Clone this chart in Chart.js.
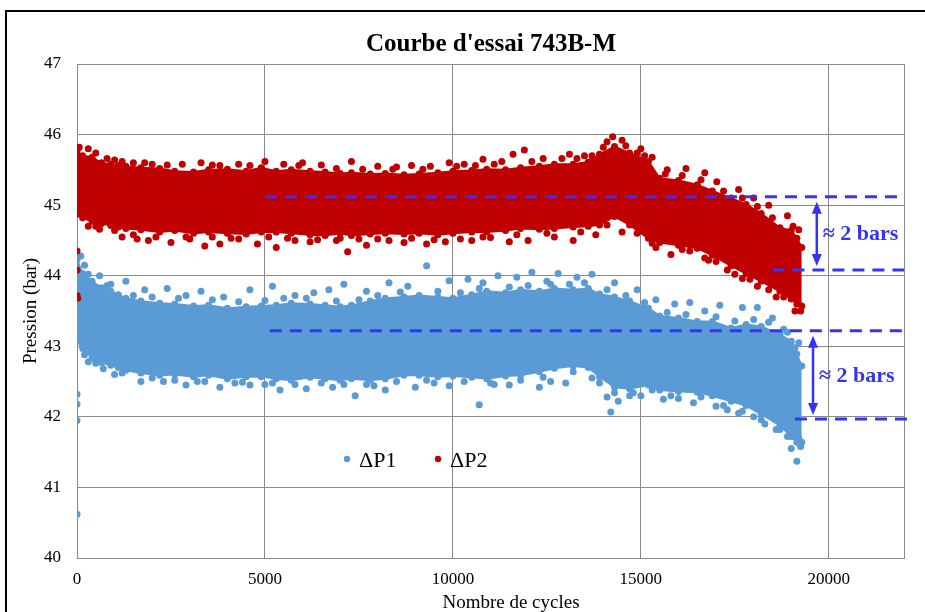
<!DOCTYPE html>
<html>
<head>
<meta charset="utf-8">
<title>Courbe d'essai 743B-M</title>
<script src="https://cdn.jsdelivr.net/npm/chart.js@4.4.1/dist/chart.umd.min.js"></script>
<style>
html, body { margin: 0; padding: 0; background: #fff; }
#chart { display: block; }
</style>
</head>
<body>
<canvas id="chart" width="925" height="612"></canvas>
<script>
(function () {

var title = "Courbe d'essai 743B-M";
var xTitle = 'Nombre de cycles';
var yTitle = 'Pression (bar)';
var seriesNames = ['\u0394P1', '\u0394P2'];
var seriesColors = ['#5b9bd5', '#c00000'];
var refColor = '#3434f6';
var gridColor = '#8a8a8a';
var serif = '"Liberation Serif", "Times New Roman", serif';

var xTicks = [0, 5000, 10000, 15000, 20000];
var xMax = 22000;
var yMin = 40;
var yMax = 47;

// dense part of each cloud: upper and lower edge read along the cycles
var bandCycles = [0, 150, 400, 650, 900, 1100, 1300, 1700, 2200, 2600, 3100, 3500, 4000, 4500, 4900, 5300, 5700, 6200, 6600, 7000, 7300, 7800, 8200, 8700, 9100, 9600, 10000, 10500, 10900, 11400, 11800, 12300, 12700, 13200, 13600, 13900, 14300, 14700, 15200, 15500, 16000, 16500, 16900, 17400, 17800, 18200, 18700, 19000, 19150, 19280];
var p2High = [45.76, 45.70, 45.68, 45.60, 45.58, 45.56, 45.55, 45.53, 45.52, 45.48, 45.47, 45.50, 45.51, 45.48, 45.53, 45.48, 45.50, 45.48, 45.47, 45.45, 45.46, 45.44, 45.45, 45.43, 45.44, 45.46, 45.48, 45.49, 45.51, 45.50, 45.53, 45.55, 45.58, 45.58, 45.61, 45.72, 45.83, 45.74, 45.62, 45.38, 45.35, 45.29, 45.20, 45.10, 45.01, 44.88, 44.68, 44.64, 44.53, 44.40];
var p2Low = [44.87, 44.82, 44.77, 44.74, 44.71, 44.69, 44.67, 44.65, 44.62, 44.64, 44.60, 44.62, 44.60, 44.59, 44.62, 44.62, 44.60, 44.58, 44.57, 44.60, 44.57, 44.59, 44.60, 44.59, 44.60, 44.58, 44.60, 44.62, 44.62, 44.64, 44.67, 44.66, 44.67, 44.69, 44.70, 44.72, 44.84, 44.72, 44.53, 44.47, 44.43, 44.39, 44.29, 44.14, 44.03, 43.92, 43.78, 43.67, 43.60, 43.57];
var p1High = [44.23, 44.03, 43.92, 43.83, 43.78, 43.73, 43.68, 43.64, 43.61, 43.60, 43.57, 43.58, 43.54, 43.56, 43.57, 43.58, 43.61, 43.60, 43.58, 43.56, 43.58, 43.64, 43.68, 43.70, 43.72, 43.70, 43.68, 43.73, 43.78, 43.76, 43.80, 43.78, 43.82, 43.80, 43.82, 43.74, 43.70, 43.64, 43.54, 43.43, 43.40, 43.35, 43.35, 43.26, 43.31, 43.28, 43.17, 43.07, 42.89, 42.72];
var p1Low = [43.07, 42.97, 42.83, 42.77, 42.73, 42.70, 42.66, 42.62, 42.59, 42.60, 42.57, 42.59, 42.54, 42.57, 42.57, 42.54, 42.52, 42.56, 42.54, 42.52, 42.54, 42.52, 42.54, 42.59, 42.59, 42.57, 42.58, 42.56, 42.54, 42.58, 42.59, 42.64, 42.69, 42.72, 42.70, 42.57, 42.42, 42.40, 42.45, 42.38, 42.36, 42.35, 42.30, 42.22, 42.16, 42.04, 41.88, 41.72, 41.64, 41.64];

// scattered points around the clouds
var p2Cycles = [0, 0, 0, 20, 0, 60, 300, 800, 1200, 1800, 2400, 2800, 3300, 3800, 4300, 5000, 5500, 6000, 6500, 7300, 8000, 8500, 8900, 9400, 9900, 10300, 10800, 11300, 11600, 11900, 12400, 13100, 13500, 14100, 14250, 14500, 15000, 15300, 15700, 16200, 16700, 17020, 17600, 18000, 18400, 18900, 19200,
	500, 1000, 1500, 2000, 3600, 4600, 5900, 6900, 7600, 8400, 9200, 10100, 10600, 11100, 12100, 12900, 13300, 13700, 14000, 14600, 14900, 15100, 15650, 16100, 16600, 17200, 17700, 18100, 18500, 19050,
	300, 600, 1200, 1600, 1900, 2500, 3000, 3400, 3800, 4300, 4800, 5300, 5800, 6200, 6900, 7200, 7500, 7700, 8300, 8700, 9300, 9800, 10200, 10500, 11000, 11500, 12000, 12700, 13200, 13800, 14500, 15400, 15800, 16300, 16700, 17000, 17500, 17900, 18400, 18600, 19100,
	500, 1000, 1500, 2100, 2900, 3600, 4100, 5100, 5600, 6400, 7000, 8000, 8900, 9500, 10800, 11700, 12500, 13400, 14100, 14900, 15300, 16100, 16800, 17300, 17700, 18100, 18800, 19250];
var p2Values = [44.35, 44.08, 43.72, 43.68, 45.45, 45.82, 45.80, 45.66, 45.62, 45.60, 45.57, 45.58, 45.60, 45.56, 45.58, 45.62, 45.58, 45.60, 45.57, 45.62, 45.55, 45.54, 45.56, 45.55, 45.60, 45.58, 45.65, 45.62, 45.72, 45.78, 45.66, 45.72, 45.70, 45.90, 45.97, 45.92, 45.80, 45.68, 45.50, 45.52, 45.46, 45.33, 45.22, 45.10, 45.00, 44.85, 44.65,
	45.74, 45.64, 45.60, 45.58, 45.57, 45.56, 45.56, 45.52, 45.51, 45.51, 45.51, 45.55, 45.56, 45.58, 45.62, 45.66, 45.66, 45.70, 45.82, 45.84, 45.74, 45.70, 45.44, 45.42, 45.36, 45.20, 45.10, 44.98, 44.82, 44.70,
	44.70, 44.66, 44.55, 44.52, 44.50, 44.47, 44.52, 44.42, 44.45, 44.52, 44.45, 44.40, 44.50, 44.48, 44.50, 44.34, 44.52, 44.43, 44.50, 44.47, 44.45, 44.48, 44.52, 44.50, 44.54, 44.48, 44.50, 44.55, 44.50, 44.58, 44.62, 44.40, 44.30, 44.35, 44.25, 44.20, 44.02, 43.95, 43.80, 43.70, 43.50,
	44.70, 44.64, 44.58, 44.55, 44.55, 44.55, 44.53, 44.55, 44.53, 44.51, 44.53, 44.52, 44.53, 44.51, 44.55, 44.58, 44.60, 44.62, 44.72, 44.60, 44.46, 44.37, 44.22, 44.08, 43.96, 43.85, 43.70, 43.50];

var p1Cycles = [0, 0, 0, 0, 100, 200, 600, 900, 1300, 1800, 2400, 2900, 3300, 3900, 4600, 5200, 5800, 6300, 6700, 7100, 7700, 8300, 8800, 9300, 9900, 10400, 10800, 11200, 11700, 12100, 12500, 12800, 13300, 13700, 14300, 14900, 15400, 15900, 16300, 16700, 17100, 17700, 18100, 18500, 18900, 19200,
	300, 800, 1500, 2000, 2700, 3600, 4300, 5000, 5500, 6100, 6900, 7500, 8000, 8600, 9600, 10200, 10700, 11500, 12000, 12600, 13100, 13500, 14100, 14600, 15100, 15700, 16200, 17000, 17500, 18000, 18400, 18800, 19100,
	300, 700, 1000, 1700, 2300, 2900, 3400, 3800, 4200, 4600, 5000, 5400, 6100, 6800, 7400, 7900, 8200, 9000, 9500, 9900, 10700, 11100, 11500, 12300, 12600, 13000, 13700, 14100, 14200, 14400, 14700, 15000, 15600, 16000, 16400, 17000, 17300, 17600, 18000, 18300, 18700, 19000, 19150, 19200,
	200, 500, 1200, 2000, 2600, 3200, 4400, 5200, 5800, 6500, 7100, 7700, 8500, 9300, 10300, 11000, 11800, 12400, 13200, 13900, 14300, 14800, 15300, 15800, 16600, 17200, 17700, 18200, 18600, 18900, 19250];
var p1Values = [42.32, 42.18, 41.95, 40.62, 44.28, 44.15, 44.00, 43.88, 43.92, 43.80, 43.82, 43.72, 43.78, 43.70, 43.80, 43.85, 43.72, 43.76, 43.80, 43.88, 43.78, 43.90, 43.85, 44.14, 43.93, 43.95, 43.90, 44.00, 43.98, 44.05, 43.92, 44.03, 43.98, 44.02, 43.90, 43.80, 43.66, 43.60, 43.62, 43.50, 43.58, 43.55, 43.55, 43.40, 43.20, 43.05,
	44.02, 43.86, 43.72, 43.70, 43.68, 43.66, 43.63, 43.65, 43.68, 43.68, 43.64, 43.66, 43.72, 43.77, 43.78, 43.76, 43.82, 43.84, 43.86, 43.88, 43.88, 43.90, 43.80, 43.72, 43.62, 43.48, 43.45, 43.42, 43.36, 43.38, 43.34, 43.24, 42.98,
	42.78, 42.68, 42.60, 42.50, 42.50, 42.45, 42.50, 42.42, 42.48, 42.45, 42.46, 42.38, 42.40, 42.42, 42.30, 42.44, 42.38, 42.42, 42.48, 42.44, 42.17, 42.46, 42.45, 42.42, 42.50, 42.48, 42.55, 42.28, 42.07, 42.22, 42.30, 42.30, 42.25, 42.26, 42.20, 42.15, 42.10, 42.05, 42.00, 41.90, 41.82, 41.55, 41.37, 41.70,
	42.88, 42.76, 42.62, 42.55, 42.52, 42.50, 42.49, 42.48, 42.46, 42.48, 42.46, 42.46, 42.50, 42.52, 42.50, 42.48, 42.52, 42.56, 42.64, 42.48, 42.34, 42.34, 42.38, 42.30, 42.28, 42.16, 42.08, 41.96, 41.82, 41.72, 41.58];

// dashed reference levels and the gap arrows
var p1RefLevels = [43.22, 41.97];
var p1RefStarts = [5130, 19100];
var p1RefEnds = [22000, 22250];
var p2RefLevels = [45.12, 44.08];
var p2RefStarts = [5000, 18500];
var p2RefEnds = [22000, 22000];
var gapCycles = [19580, 19680];
var gapLabel = '\u2248 2 bars';

function pairs(xs, ys) {
	var list = [];
	for (var i = 0, len = xs.length; i < len; i++) {
		list.push({ x: xs[i], y: ys[i] });
	}
	return list;
}

function band(xs, ys, color, fill, order) {
	return {
		type: 'line',
		data: pairs(xs, ys),
		borderColor: color,
		backgroundColor: color,
		borderWidth: 2,
		pointRadius: 3.5,
		pointBorderWidth: 0,
		pointBackgroundColor: color,
		tension: 0,
		fill: fill,
		order: order
	};
}

function cloud(xs, ys, color, order) {
	return {
		type: 'scatter',
		data: pairs(xs, ys),
		backgroundColor: color,
		borderColor: color,
		pointRadius: 3.5,
		pointBorderWidth: 0,
		order: order
	};
}

function refLine(start, end, level) {
	return {
		type: 'line',
		data: [{ x: start, y: level }, { x: end, y: level }],
		borderColor: refColor,
		borderWidth: 3,
		borderDash: [12, 8],
		pointRadius: 0,
		fill: false,
		clip: false,
		order: 0
	};
}

var datasets = [
	band(bandCycles, p2High, seriesColors[1], '+1', 1),
	band(bandCycles, p2Low, seriesColors[1], false, 1),
	band(bandCycles, p1High, seriesColors[0], '+1', 2),
	band(bandCycles, p1Low, seriesColors[0], false, 2),
	cloud(p2Cycles, p2Values, seriesColors[1], 1),
	cloud(p1Cycles, p1Values, seriesColors[0], 2)
];
for (var i = 0; i < 2; i++) {
	datasets.push(refLine(p1RefStarts[i], p1RefEnds[i], p1RefLevels[i]));
	datasets.push(refLine(p2RefStarts[i], p2RefEnds[i], p2RefLevels[i]));
}

function drawArrow(ctx, x, yTop, yBottom) {
	var head = 12, half = 5;
	ctx.beginPath();
	ctx.moveTo(x, yTop + head - 2);
	ctx.lineTo(x, yBottom - head + 2);
	ctx.stroke();
	ctx.beginPath();
	ctx.moveTo(x, yTop);
	ctx.lineTo(x - half, yTop + head);
	ctx.lineTo(x + half, yTop + head);
	ctx.closePath();
	ctx.fill();
	ctx.beginPath();
	ctx.moveTo(x, yBottom);
	ctx.lineTo(x - half, yBottom - head);
	ctx.lineTo(x + half, yBottom - head);
	ctx.closePath();
	ctx.fill();
}

var decorations = {
	id: 'decorations',
	afterDraw: function (chart) {
		var ctx = chart.ctx;
		var xs = chart.scales.x;
		var ys = chart.scales.y;
		ctx.save();

		// frame around the whole figure
		ctx.strokeStyle = '#000';
		ctx.lineWidth = 2;
		ctx.strokeRect(6, 11, 960, 640);

		ctx.fillStyle = '#000';
		ctx.textAlign = 'center';
		ctx.textBaseline = 'middle';
		ctx.font = 'bold 25px ' + serif;
		ctx.fillText(title, 491, 45);
		ctx.font = '19px ' + serif;
		ctx.fillText(xTitle, 511, 603);
		ctx.save();
		ctx.translate(31, 311);
		ctx.rotate(-Math.PI / 2);
		ctx.fillText(yTitle, 0, 0);
		ctx.restore();

		// legend inside the plot
		var legendX = [347, 438];
		ctx.font = '22px ' + serif;
		ctx.textAlign = 'left';
		for (var k = 0; k < 2; k++) {
			ctx.fillStyle = seriesColors[k];
			ctx.beginPath();
			ctx.arc(legendX[k], 459, 3.2, 0, Math.PI * 2);
			ctx.fill();
			ctx.fillStyle = '#000';
			ctx.fillText(seriesNames[k], legendX[k] + 12, 461);
		}

		// gap arrows
		ctx.strokeStyle = refColor;
		ctx.fillStyle = refColor;
		ctx.lineWidth = 2.5;
		ctx.font = 'bold 22px ' + serif;
		var levels = [p1RefLevels, p2RefLevels];
		for (var j = 0; j < 2; j++) {
			var ax = xs.getPixelForValue(gapCycles[j]);
			var top = ys.getPixelForValue(levels[j][0]);
			var bottom = ys.getPixelForValue(levels[j][1]);
			drawArrow(ctx, ax, top + 5, bottom - 4);
			ctx.fillText(gapLabel, ax + 6, (top + bottom) / 2 + 1);
		}
		ctx.restore();
	}
};

var tickFont = { family: serif, size: 17 };

new Chart(document.getElementById('chart'), {
	type: 'scatter',
	data: { datasets: datasets },
	options: {
		responsive: false,
		animation: false,
		devicePixelRatio: 1,
		layout: { padding: { top: 64, right: 21, left: 0, bottom: 0 } },
		plugins: {
			legend: { display: false },
			title: { display: false },
			tooltip: { enabled: false }
		},
		scales: {
			x: {
				type: 'linear',
				min: 0,
				max: xMax,
				afterBuildTicks: function (scale) {
					scale.ticks = xTicks.concat([xMax]).map(function (v) { return { value: v }; });
				},
				afterFit: function (scale) { scale.height = 54; },
				ticks: {
					autoSkip: false,
					maxRotation: 0,
					padding: 11,
					color: '#000',
					font: tickFont,
					callback: function (value) {
						return xTicks.indexOf(value) >= 0 ? String(value) : '';
					}
				},
				grid: { color: gridColor, drawTicks: false },
				border: { color: gridColor }
			},
			y: {
				min: yMin,
				max: yMax,
				afterFit: function (scale) { scale.width = 77; },
				ticks: { stepSize: 1, padding: 16, color: '#000', font: tickFont },
				grid: { color: gridColor, drawTicks: false },
				border: { color: gridColor }
			}
		}
	},
	plugins: [decorations]
});

}());
</script>
</body>
</html>
